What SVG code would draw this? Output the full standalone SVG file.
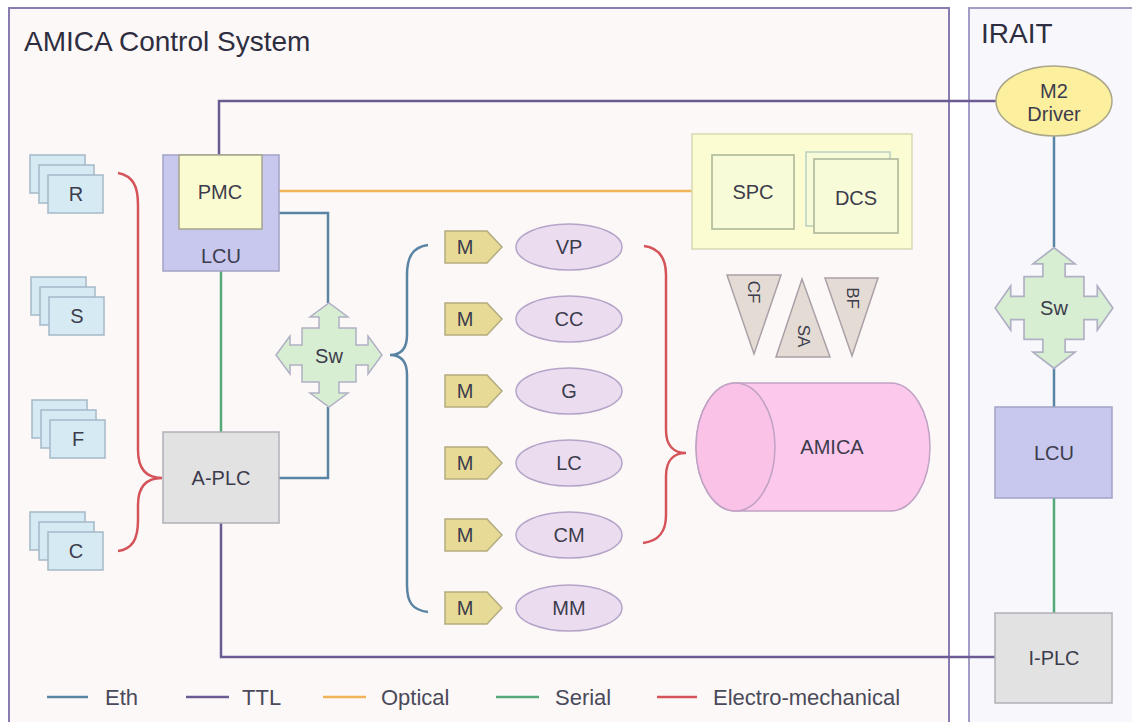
<svg xmlns="http://www.w3.org/2000/svg" width="1132" height="722" viewBox="0 0 1132 722">
<style>
text{font-family:"Liberation Sans",Arial,sans-serif;fill:#3c3c4c;text-anchor:middle;dominant-baseline:central}
.lbl{font-size:20px}
.title{font-size:28px;fill:#2e2e40;text-anchor:start;dominant-baseline:auto}
.leg{font-size:22px;fill:#4a4a5a;text-anchor:start}
.tri{font-size:17px}
.eth{stroke:#5a84a4;stroke-width:2.5;fill:none}
.ttl{stroke:#6c5a92;stroke-width:2.5;fill:none}
.opt{stroke:#f2b45a;stroke-width:2.5;fill:none}
.ser{stroke:#55a878;stroke-width:2.5;fill:none}
.em{stroke:#d4545a;stroke-width:2.5;fill:none}
.stk{fill:#d6eaf4;stroke:#a4b8c8;stroke-width:1.5}
.mtag{fill:#e6da96;stroke:#b4ac80;stroke-width:1.5}
.mot{fill:#ecdcf0;stroke:#b4a4c8;stroke-width:1.5}
.tr{fill:#e4dcd4;stroke:#aaa0a8;stroke-width:1.5}
.sw{fill:#d8eed2;stroke:#b0b0c4;stroke-width:1.5}
</style>
<defs>
<path id="swp" d="M-27,-27 L-10,-27 L-10,-38 L-19,-38 L0,-52 L19,-38 L10,-38 L10,-27 L27,-27 L27,-10 L39,-10 L39,-19 L53,0 L39,19 L39,10 L27,10 L27,27 L10,27 L10,38 L19,38 L0,52 L-19,38 L-10,38 L-10,27 L-27,27 L-27,10 L-39,10 L-39,19 L-53,0 L-39,-19 L-39,-10 L-27,-10 Z"/>
<g id="stack">
<rect x="0" y="0" width="55" height="38" class="stk"/>
<rect x="9" y="10" width="55" height="38" class="stk"/>
<rect x="18" y="20" width="55" height="38" class="stk"/>
</g>
<path id="mt" d="M0,-16 L42,-16 L57,0 L42,16 L0,16 Z" class="mtag"/>
</defs>
<rect width="1132" height="722" fill="#ffffff"/>
<g id="amica-system">
<rect x="9" y="8" width="940" height="730" fill="#fdf8f8" stroke="#8a7cb0" stroke-width="2"/>
<text class="title" x="24" y="51">AMICA Control System</text>
</g>
<g id="irait">
<rect x="969" y="8" width="180" height="730" fill="#f8f8fc" stroke="#a49cc4" stroke-width="2"/>
<text class="title" x="981" y="43">IRAIT</text>
</g>
<g id="connectors">
<polyline class="ttl" points="219,155 219,101 998,101"/>
<polyline class="ttl" points="221,523 221,657 995,657"/>
<line class="opt" x1="262" y1="191" x2="712" y2="191"/>
<polyline class="eth" points="279,213 328,213 328,303"/>
<polyline class="eth" points="328,407 328,478 279,478"/>
<line class="ser" x1="221" y1="271" x2="221" y2="432"/>
<path class="em" d="M118,173 C133,176 138,186 138,205 L138,450 C138,469 146,478 162,478 C146,478 138,487 138,505 L138,520 C138,540 132,549 118,551"/>
<path class="eth" d="M428,245 C412,247 407,258 407,275 L407,335 C407,350 400,355 390,355 C400,355 407,360 407,375 L407,585 C407,602 412,610 428,612"/>
<path class="em" d="M644,246 C659,248 666,258 666,275 L666,430 C666,446 674,453 686,453 C674,453 666,460 666,476 L666,515 C666,532 659,541 643,543"/>
<line class="eth" x1="1054" y1="136" x2="1054" y2="247"/>
<line class="eth" x1="1054" y1="368" x2="1054" y2="407"/>
<line class="ser" x1="1054" y1="498" x2="1054" y2="613"/>
</g>
<g id="stack-r"><use href="#stack" x="30" y="155"/><text class="lbl" x="76" y="194">R</text></g>
<g id="stack-s"><use href="#stack" x="31" y="277"/><text class="lbl" x="77" y="316">S</text></g>
<g id="stack-f"><use href="#stack" x="32" y="400"/><text class="lbl" x="78" y="439">F</text></g>
<g id="stack-c"><use href="#stack" x="30" y="512"/><text class="lbl" x="76" y="551">C</text></g>
<g id="lcu-left">
<rect x="163" y="155" width="116" height="116" fill="#c8c8ee" stroke="#a2a2c6" stroke-width="1.5"/>
<text class="lbl" x="221" y="256">LCU</text>
</g>
<g id="pmc">
<rect x="179" y="155" width="83" height="74" fill="#fbfbd2" stroke="#a4a48a" stroke-width="1.5"/>
<text class="lbl" x="220" y="192">PMC</text>
</g>
<g id="a-plc">
<rect x="163" y="432" width="116" height="91" fill="#e2e2e2" stroke="#b0b0b8" stroke-width="1.5"/>
<text class="lbl" x="221" y="478">A-PLC</text>
</g>
<g id="sw-left">
<use href="#swp" class="sw" transform="translate(329,355)"/>
<text class="lbl" x="329" y="356">Sw</text>
</g>
<g id="vp"><use href="#mt" x="445" y="247"/><text class="lbl" x="465" y="247">M</text><ellipse class="mot" cx="569" cy="247" rx="53" ry="23"/><text class="lbl" x="569" y="247">VP</text></g>
<g id="cc"><use href="#mt" x="445" y="319"/><text class="lbl" x="465" y="319">M</text><ellipse class="mot" cx="569" cy="319" rx="53" ry="23"/><text class="lbl" x="569" y="319">CC</text></g>
<g id="g"><use href="#mt" x="445" y="391"/><text class="lbl" x="465" y="391">M</text><ellipse class="mot" cx="569" cy="391" rx="53" ry="23"/><text class="lbl" x="569" y="391">G</text></g>
<g id="lc"><use href="#mt" x="445" y="463"/><text class="lbl" x="465" y="463">M</text><ellipse class="mot" cx="569" cy="463" rx="53" ry="23"/><text class="lbl" x="569" y="463">LC</text></g>
<g id="cm"><use href="#mt" x="445" y="535"/><text class="lbl" x="465" y="535">M</text><ellipse class="mot" cx="569" cy="535" rx="53" ry="23"/><text class="lbl" x="569" y="535">CM</text></g>
<g id="mm"><use href="#mt" x="445" y="608"/><text class="lbl" x="465" y="608">M</text><ellipse class="mot" cx="569" cy="608" rx="53" ry="23"/><text class="lbl" x="569" y="608">MM</text></g>
<g id="spc-dcs">
<rect x="692" y="134" width="220" height="115" fill="#fcfcd2" stroke="#d8d8b4" stroke-width="1.5"/>
<rect x="712" y="155" width="82" height="74" fill="#f8fbd8" stroke="#a8b494" stroke-width="1.5"/>
<text class="lbl" x="753" y="192">SPC</text>
<rect x="806" y="152" width="84" height="74" fill="#f8fbd8" stroke="#b8d0c0" stroke-width="1.5"/>
<rect x="814" y="159" width="84" height="74" fill="#f8fbd8" stroke="#a8b494" stroke-width="1.5"/>
<text class="lbl" x="856" y="198">DCS</text>
</g>
<g id="cf"><polygon class="tr" points="727,275 781,275 754,354"/><text class="tri" transform="translate(753,292) rotate(90)">CF</text></g>
<g id="sa"><polygon class="tr" points="802,279 776,357 830,357"/><text class="tri" transform="translate(803,336) rotate(90)">SA</text></g>
<g id="bf"><polygon class="tr" points="825,278 878,278 852,356"/><text class="tri" transform="translate(852,298) rotate(90)">BF</text></g>
<g id="amica">
<path d="M735.5,383 L890.5,383 A39.5,64 0 0 1 890.5,511 L735.5,511 A39.5,64 0 0 1 735.5,383 Z" fill="#fcc8ec" stroke="#c0a2c4" stroke-width="1.5"/>
<ellipse cx="735.5" cy="447" rx="39.5" ry="64" fill="#f9c2e6" stroke="#c0a2c4" stroke-width="1.5"/>
<text class="lbl" x="832" y="447">AMICA</text>
</g>
<g id="m2-driver">
<ellipse cx="1054" cy="101" rx="58" ry="35" fill="#fcef9e" stroke="#aaa68a" stroke-width="1.5"/>
<text class="lbl" x="1054" y="91">M2</text>
<text class="lbl" x="1054" y="114">Driver</text>
</g>
<g id="sw-right">
<use href="#swp" class="sw" transform="translate(1054,308) scale(1.11,1.16)"/>
<text class="lbl" x="1054" y="308">Sw</text>
</g>
<g id="lcu-right">
<rect x="995" y="407" width="117" height="91" fill="#c8c8ee" stroke="#a2a2c6" stroke-width="1.5"/>
<text class="lbl" x="1054" y="453">LCU</text>
</g>
<g id="i-plc">
<rect x="995" y="613" width="117" height="90" fill="#e2e2e2" stroke="#b0b0b8" stroke-width="1.5"/>
<text class="lbl" x="1054" y="658">I-PLC</text>
</g>
<g id="legend">
<line class="eth" x1="47" y1="697" x2="88" y2="697"/><text class="leg" x="105" y="697">Eth</text>
<line class="ttl" x1="186" y1="697" x2="229" y2="697"/><text class="leg" x="242" y="697">TTL</text>
<line class="opt" x1="323" y1="697" x2="366" y2="697"/><text class="leg" x="381" y="697">Optical</text>
<line class="ser" x1="496" y1="697" x2="539" y2="697"/><text class="leg" x="555" y="697">Serial</text>
<line class="em" x1="657" y1="697" x2="697" y2="697"/><text class="leg" x="713" y="697">Electro-mechanical</text>
</g>
</svg>
